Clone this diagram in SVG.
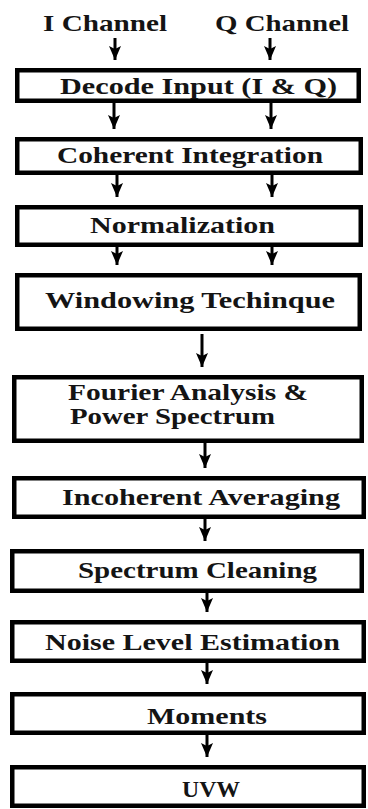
<svg xmlns="http://www.w3.org/2000/svg" width="368" height="809" viewBox="0 0 368 809">
<style>
.box{fill:#fff;stroke:#000;stroke-width:4.5}
.t{font-family:"Liberation Serif","Times New Roman",serif;font-weight:bold;font-size:24px;fill:#141414}
.c{stroke:#000;stroke-width:3;fill:none}
</style>
<defs>
<marker id="ah" viewBox="0 0 14 12" refX="14" refY="6" markerWidth="14" markerHeight="12" markerUnits="userSpaceOnUse" orient="auto">
<path d="M0,0 L14,6 L0,12 L3,6 z" fill="#000"/>
</marker>
</defs>
<rect width="368" height="809" fill="#fff"/>
<g id="labels">
<text class="t" transform="translate(43,31) scale(1.25,1)" textLength="99.2" lengthAdjust="spacingAndGlyphs">I Channel</text>
<text class="t" transform="translate(215,31) scale(1.25,1)" textLength="107.2" lengthAdjust="spacingAndGlyphs">Q Channel</text>
</g>
<g id="connectors">
<path class="c" d="M115,38 V60" marker-end="url(#ah)"/>
<path class="c" d="M270,38 V60" marker-end="url(#ah)"/>
<path class="c" d="M114,103 V129" marker-end="url(#ah)"/>
<path class="c" d="M271,103 V129" marker-end="url(#ah)"/>
<path class="c" d="M117,175 V197" marker-end="url(#ah)"/>
<path class="c" d="M272,175 V197" marker-end="url(#ah)"/>
<path class="c" d="M117,247 V265" marker-end="url(#ah)"/>
<path class="c" d="M272,247 V265" marker-end="url(#ah)"/>
<path class="c" d="M202,334 V367" marker-end="url(#ah)"/>
<path class="c" d="M205,443 V468" marker-end="url(#ah)"/>
<path class="c" d="M205,519 V541" marker-end="url(#ah)"/>
<path class="c" d="M207,593 V612" marker-end="url(#ah)"/>
<path class="c" d="M207,663 V684" marker-end="url(#ah)"/>
<path class="c" d="M207,735 V757" marker-end="url(#ah)"/>
</g>
<g id="decode">
<rect class="box" x="17.25" y="70.25" width="341.5" height="30.5"/>
<text class="t" transform="translate(60,94) scale(1.25,1)" textLength="221.6" lengthAdjust="spacingAndGlyphs">Decode Input (I &amp; Q)</text>
</g>
<g id="coherent">
<rect class="box" x="17.25" y="139.25" width="343.5" height="33.5"/>
<text class="t" transform="translate(57,163) scale(1.25,1)" textLength="212.8" lengthAdjust="spacingAndGlyphs">Coherent Integration</text>
</g>
<g id="normalization">
<rect class="box" x="17.25" y="207.25" width="343.5" height="37.5"/>
<text class="t" transform="translate(90,233) scale(1.25,1)" textLength="148" lengthAdjust="spacingAndGlyphs">Normalization</text>
</g>
<g id="windowing">
<rect class="box" x="17.25" y="275.25" width="342.5" height="53.5"/>
<text class="t" transform="translate(45,308) scale(1.25,1)" textLength="232" lengthAdjust="spacingAndGlyphs">Windowing Techinque</text>
</g>
<g id="fourier">
<rect class="box" x="14.25" y="377.25" width="347.5" height="63.5"/>
<text class="t" transform="translate(68,400) scale(1.25,1)" textLength="192" lengthAdjust="spacingAndGlyphs">Fourier Analysis &amp;</text>
<text class="t" transform="translate(70,424) scale(1.25,1)" textLength="164" lengthAdjust="spacingAndGlyphs">Power Spectrum</text>
</g>
<g id="incoherent">
<rect class="box" x="14.25" y="478.25" width="349.5" height="38.5"/>
<text class="t" transform="translate(62,505) scale(1.25,1)" textLength="222.4" lengthAdjust="spacingAndGlyphs">Incoherent Averaging</text>
</g>
<g id="cleaning">
<rect class="box" x="12.25" y="551.25" width="349.5" height="39.5"/>
<text class="t" transform="translate(78,578) scale(1.25,1)" textLength="191.2" lengthAdjust="spacingAndGlyphs">Spectrum Cleaning</text>
</g>
<g id="noise">
<rect class="box" x="12.25" y="622.25" width="351.5" height="38.5"/>
<text class="t" transform="translate(45,650) scale(1.25,1)" textLength="236" lengthAdjust="spacingAndGlyphs">Noise Level Estimation</text>
</g>
<g id="moments">
<rect class="box" x="12.25" y="694.25" width="351.5" height="38.5"/>
<text class="t" transform="translate(147,724) scale(1.25,1)" textLength="96" lengthAdjust="spacingAndGlyphs">Moments</text>
</g>
<g id="uvw">
<rect class="box" x="12.25" y="767.25" width="351.5" height="38.5"/>
<text class="t" transform="translate(182,797)" textLength="58" lengthAdjust="spacingAndGlyphs">UVW</text>
</g>
</svg>
